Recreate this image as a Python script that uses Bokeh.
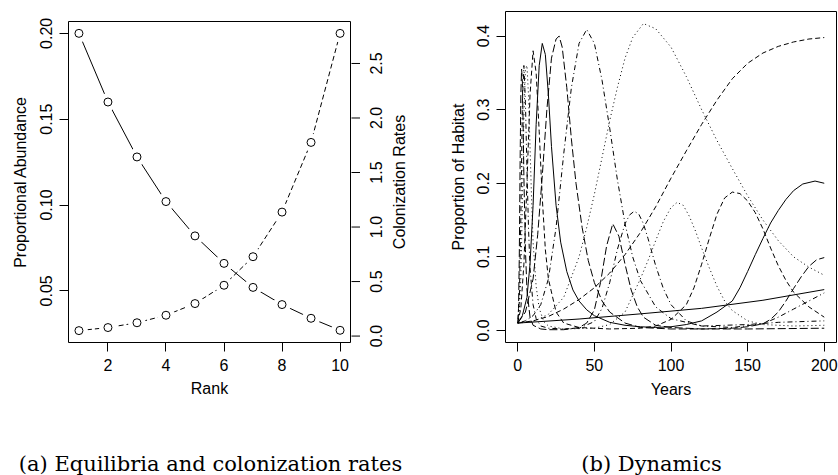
import math
from bokeh.plotting import figure
from bokeh.models import Range1d, FixedTicker, NumeralTickFormatter
from bokeh.layouts import row, column
from bokeh.embed import file_html
from bokeh.resources import INLINE
from bokeh.core.properties import value

# ---------------- panel (a) data ----------------
rank = [1, 2, 3, 4, 5, 6, 7, 8, 9, 10]
abundance = [0.200, 0.160, 0.128, 0.102, 0.082, 0.066, 0.052, 0.042, 0.034, 0.027]
colonization = [0.050, 0.078, 0.122, 0.191, 0.298, 0.466, 0.728, 1.137, 1.776, 2.776]
rank_ticks = [2, 4, 6, 8, 10]
abund_ticks = [0.05, 0.10, 0.15, 0.20]
colon_ticks = [0.0, 0.5, 1.0, 1.5, 2.0, 2.5]

# ---------------- panel (b) data ----------------
year_ticks = [0, 50, 100, 150, 200]
habitat_ticks = [0.0, 0.1, 0.2, 0.3, 0.4]

sp1_t = [0, 40, 80, 120, 160, 200]
sp1_p = [0.010, 0.0155, 0.0225, 0.030, 0.041, 0.0555]

sp2_t = [0, 10, 20, 30, 40, 50, 60, 70, 80, 90, 100, 110, 120, 130, 140, 150, 160, 170, 180, 190, 200]
sp2_p = [0.010, 0.013, 0.019, 0.029, 0.042, 0.058, 0.078, 0.103, 0.133, 0.168, 0.207, 0.244, 0.280,
         0.313, 0.342, 0.363, 0.377, 0.386, 0.392, 0.396, 0.398]

sp3_t = [0, 10, 20, 30, 40, 45, 50, 55, 60, 65, 70, 75, 82, 90, 100, 110, 120, 130, 140, 150, 160,
         170, 180, 190, 200]
sp3_p = [0.010, 0.012, 0.022, 0.045, 0.100, 0.140, 0.185, 0.235, 0.285, 0.330, 0.370, 0.398, 0.417,
         0.410, 0.385, 0.345, 0.300, 0.258, 0.220, 0.183, 0.150, 0.122, 0.100, 0.086, 0.075]

sp4_t = [0, 5, 10, 15, 20, 25, 30, 35, 40, 45, 50, 55, 60, 65, 70, 75, 80, 90, 100, 120, 150, 170,
         200]
sp4_p = [0.010, 0.013, 0.020, 0.035, 0.070, 0.140, 0.240, 0.330, 0.390, 0.409, 0.390, 0.340, 0.275,
         0.205, 0.145, 0.100, 0.068, 0.032, 0.016, 0.006, 0.008, 0.011, 0.013]

sp5_t = [0, 5, 10, 13, 16, 19, 22, 25, 27, 29, 32, 35, 38, 42, 46, 50, 55, 60, 70, 80, 100, 150, 200]
sp5_p = [0.010, 0.025, 0.070, 0.130, 0.210, 0.300, 0.370, 0.396, 0.400, 0.385, 0.330, 0.260, 0.200,
         0.140, 0.095, 0.065, 0.040, 0.025, 0.010, 0.004, 0.002, 0.002, 0.003]

sp6_t = [0, 3, 6, 8, 10, 12, 14, 16, 18, 20, 22, 25, 28, 32, 36, 40, 45, 50, 60, 70, 80, 90, 100,
         110, 120, 130, 140, 145, 150, 155, 160, 165, 170, 175, 180, 186, 194, 200]
sp6_p = [0.010, 0.020, 0.045, 0.090, 0.170, 0.280, 0.360, 0.390, 0.375, 0.320, 0.250, 0.170, 0.120,
         0.080, 0.055, 0.040, 0.028, 0.020, 0.011, 0.007, 0.005, 0.004, 0.005, 0.008, 0.013, 0.025,
         0.040, 0.058, 0.080, 0.103, 0.125, 0.146, 0.163, 0.178, 0.190, 0.199, 0.203, 0.200]

sp7_t = [0, 2, 4, 6, 8, 10, 12, 14, 16, 18, 20, 25, 30, 40, 60, 80, 90, 100, 110, 115, 120, 125,
         130, 135, 140, 145, 150, 155, 160, 165, 170, 175, 180, 190, 200]
sp7_p = [0.010, 0.030, 0.090, 0.200, 0.320, 0.380, 0.350, 0.270, 0.180, 0.110, 0.070, 0.025, 0.010,
         0.004, 0.002, 0.003, 0.006, 0.015, 0.035, 0.058, 0.090, 0.125, 0.158, 0.180, 0.188, 0.186,
         0.176, 0.160, 0.138, 0.112, 0.088, 0.068, 0.052, 0.032, 0.018]

sp8_t = [0, 1, 2, 3, 4, 5, 6, 7, 8, 9, 10, 12, 14, 17, 20, 30, 50, 60, 70, 80, 85, 90, 95, 100, 104,
         108, 112, 116, 120, 125, 130, 135, 140, 150, 160, 180, 200]
sp8_p = [0.010, 0.025, 0.070, 0.170, 0.290, 0.355, 0.360, 0.320, 0.250, 0.180, 0.120, 0.060, 0.030,
         0.012, 0.006, 0.002, 0.003, 0.008, 0.025, 0.070, 0.095, 0.122, 0.148, 0.167, 0.174, 0.170,
         0.155, 0.135, 0.112, 0.085, 0.060, 0.040, 0.027, 0.013, 0.008, 0.006, 0.007]

sp9_t = [0, 1, 2, 3, 4, 5, 6, 7, 8, 10, 12, 15, 20, 30, 40, 50, 55, 60, 65, 70, 73, 76, 79, 82, 85,
         90, 95, 100, 110, 120, 140, 160, 170, 180, 190, 200]
sp9_p = [0.010, 0.040, 0.150, 0.310, 0.360, 0.310, 0.220, 0.140, 0.085, 0.035, 0.016, 0.006, 0.003,
         0.002, 0.003, 0.012, 0.030, 0.065, 0.110, 0.145, 0.157, 0.162, 0.158, 0.145, 0.125, 0.088,
         0.057, 0.035, 0.013, 0.006, 0.004, 0.009, 0.018, 0.029, 0.040, 0.051]

sp10_t = [0, 0.5, 1, 1.5, 2, 2.5, 3, 3.5, 4, 5, 6, 8, 10, 15, 20, 30, 40, 45, 50, 54, 58, 62, 66, 70,
          74, 78, 82, 90, 100, 120, 140, 150, 160, 165, 170, 175, 180, 185, 190, 195, 200]
sp10_p = [0.010, 0.030, 0.100, 0.220, 0.320, 0.355, 0.340, 0.280, 0.210, 0.110, 0.055, 0.018, 0.007,
          0.002, 0.001, 0.001, 0.004, 0.010, 0.028, 0.065, 0.115, 0.145, 0.128, 0.090, 0.055, 0.032,
          0.018, 0.007, 0.004, 0.002, 0.003, 0.005, 0.009, 0.015, 0.025, 0.040, 0.057, 0.073, 0.087,
          0.096, 0.099]

captions = ["(a) Equilibria and colonization rates", "(b) Dynamics"]
colon_axis_title = "Colonization Rates"

FONT = "Liberation Sans"
SERIF = "DejaVu Serif"

DASHES = {"solid": "solid", "dashed": "5 3", "dotted": "1 3", "dotdash": "1 3 5 3", "longdash": "8 3"}
series = [
    (sp1_t, sp1_p, "solid"), (sp2_t, sp2_p, "dashed"), (sp3_t, sp3_p, "dotted"),
    (sp4_t, sp4_p, "dotdash"), (sp5_t, sp5_p, "longdash"), (sp6_t, sp6_p, "solid"),
    (sp7_t, sp7_p, "dashed"), (sp8_t, sp8_p, "dotted"), (sp9_t, sp9_p, "dotdash"),
    (sp10_t, sp10_p, "longdash"),
]


def style_axis(ax, orient=None, lab_standoff=5, ax_standoff=6):
    ax.axis_line_color = None
    ax.major_tick_line_color = "black"
    ax.major_tick_line_width = 1
    ax.major_tick_in = 0
    ax.major_tick_out = 9
    ax.minor_tick_line_color = None
    ax.major_label_text_font = FONT
    ax.major_label_text_font_size = "16px"
    ax.major_label_text_color = "black"
    ax.major_label_standoff = lab_standoff
    ax.axis_label_text_font = FONT
    ax.axis_label_text_font_size = "16px"
    ax.axis_label_text_font_style = "normal"
    ax.axis_label_text_color = "black"
    ax.axis_label_standoff = ax_standoff
    if orient is not None:
        ax.major_label_orientation = orient


def base_fig(w, h, xr, yr, bl, br, bt, bb):
    f = figure(width=w, height=h, x_range=xr, y_range=yr, output_backend="svg",
               toolbar_location=None, title=None, min_border_left=bl, min_border_right=br,
               min_border_top=bt, min_border_bottom=bb)
    f.xgrid.visible = False
    f.ygrid.visible = False
    f.outline_line_color = "black"
    f.outline_line_width = 1
    f.outline_line_alpha = 1.0
    f.background_fill_color = "white"
    f.border_fill_color = "white"
    return f


# ---------------- panel (a) ----------------
COL_LO, COL_HI = -0.059, 2.885
p1 = base_fig(351, 420, Range1d(0.64, 10.36), Range1d(0.0199, 0.2069), 68, 1, 21, 78)
p1.extra_y_ranges = {"col": Range1d(COL_LO, COL_HI)}
p1.xaxis.ticker = FixedTicker(ticks=rank_ticks)
p1.yaxis.ticker = FixedTicker(ticks=abund_ticks)
p1.yaxis.formatter = NumeralTickFormatter(format="0.00")
p1.xaxis.axis_label = "Rank"
p1.yaxis.axis_label = "Proportional Abundance"
style_axis(p1.xaxis[0], None, 7, 6)
style_axis(p1.yaxis[0], "parallel", 7, 9)

p1.line(rank, abundance, line_color="black", line_width=1)
p1.scatter(rank, abundance, size=18, fill_color="white", line_color=None)
p1.line(rank, colonization, y_range_name="col", line_color="black", line_width=1, line_dash="5 3")
p1.scatter(rank, colonization, y_range_name="col", size=18, fill_color="white", line_color=None)
p1.scatter(rank, abundance, size=8, fill_color="white", line_color="black", line_width=1)
p1.scatter(rank, colonization, y_range_name="col", size=8, fill_color="white",
           line_color="black", line_width=1)

# right-hand axis of panel (a): strip sharing the vertical scale of the "col" range
k = (COL_HI - COL_LO) / 321.0
pn = figure(width=69, height=420, x_range=Range1d(351, 420),
            y_range=Range1d(COL_LO - 78 * k, COL_HI + 21 * k),
            output_backend="svg", toolbar_location=None, title=None, min_border=0)
pn.axis.visible = False
pn.xgrid.visible = False
pn.ygrid.visible = False
pn.outline_line_color = None
pn.segment(x0=[350.5] * len(colon_ticks), y0=colon_ticks, x1=[359.5] * len(colon_ticks),
           y1=colon_ticks, line_color="black", line_width=1)
pn.text(x=[375] * len(colon_ticks), y=colon_ticks, text=["%.1f" % v for v in colon_ticks],
        angle=math.pi / 2, text_font=value(FONT), text_font_size="16px",
        text_align="center", text_baseline="middle", text_color="black")
pn.text(x=[399], y=[(COL_LO + COL_HI) / 2], text=[colon_axis_title], angle=math.pi / 2,
        text_font=value(FONT), text_font_size="16px", text_align="center",
        text_baseline="middle", text_color="black")

# ---------------- panel (b) ----------------
p2 = base_fig(418, 420, Range1d(-8, 208), Range1d(-0.0164, 0.4334), 85, 2, 11, 78)
p2.xaxis.ticker = FixedTicker(ticks=year_ticks)
p2.yaxis.ticker = FixedTicker(ticks=habitat_ticks)
p2.yaxis.formatter = NumeralTickFormatter(format="0.0")
p2.xaxis.axis_label = "Years"
p2.yaxis.axis_label = "Proportion of Habitat"
style_axis(p2.xaxis[0], None, 7, 7)
style_axis(p2.yaxis[0], "parallel", 7, 8)

for t, p, sty in series:
    p2.line(t, p, line_color="black", line_width=1, line_dash=DASHES[sty])

# ---------------- captions ----------------
pc = figure(width=838, height=55, x_range=Range1d(0, 838), y_range=Range1d(0, 55),
            output_backend="svg", toolbar_location=None, title=None, min_border=0)
pc.axis.visible = False
pc.xgrid.visible = False
pc.ygrid.visible = False
pc.outline_line_color = None
pc.text(x=[210, 651], y=[12, 12], text=captions, text_font=value(SERIF),
        text_font_size="21px", text_align="center", text_baseline="alphabetic",
        text_color="black")

layout = column(row(column(p1), column(pn), column(p2)), pc)
open("out.html", "w").write(file_html(layout, INLINE))
